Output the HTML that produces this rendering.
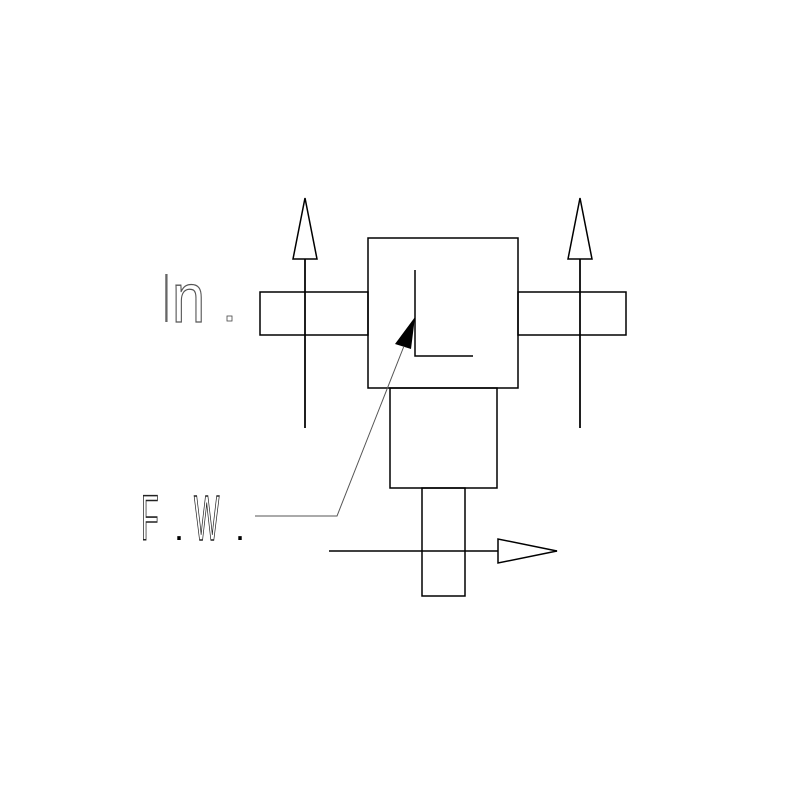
<!DOCTYPE html>
<html><head><style>body{margin:0;background:#fff}</style></head><body>
<svg width="800" height="800" xmlns="http://www.w3.org/2000/svg">
<rect width="800" height="800" fill="#fff"/>
<g fill="none" stroke="#000" stroke-width="1.5">
<rect x="368" y="238" width="150" height="150"/>
<rect x="260" y="292" width="108" height="43"/>
<rect x="518" y="292" width="108" height="43"/>
<rect x="390" y="388" width="107" height="100"/>
<rect x="422" y="488" width="43" height="108"/>
<line x1="305" y1="428" x2="305" y2="200"/>
<polygon points="305,198 293,259 317,259" fill="#fff"/>
<line x1="305" y1="259" x2="305" y2="428"/>
<line x1="580" y1="428" x2="580" y2="200"/>
<polygon points="580,198 568,259 592,259" fill="#fff"/>
<line x1="580" y1="259" x2="580" y2="428"/>
<polyline points="415,270 415,356 473,356"/>
<line x1="329" y1="551" x2="557" y2="551"/>
<polygon points="557,551 498,539 498,563" fill="#fff"/>
</g>
<polygon points="415,317 395,344 411,349" fill="#000"/>
<polyline points="404,346 337,516 255,516" fill="none" stroke="#555" stroke-width="1"/>
<g font-family="Liberation Sans, sans-serif">
<text transform="translate(163,322) scale(0.35,1)" font-size="70" fill="#666">I</text>
<text transform="translate(172,322) scale(0.85,1)" font-size="70" fill="#fff" stroke="#555" stroke-width="1.3">n</text>
<text transform="translate(141,540) scale(0.45,1)" font-size="64" fill="#fff" stroke="#222" stroke-width="1.6">F</text>
<text transform="translate(174,540)" font-size="36" fill="#000">.</text>
<text transform="translate(194,540) scale(0.42,1)" font-size="64" fill="#fff" stroke="#222" stroke-width="1.6">W</text>
<text transform="translate(235,540)" font-size="36" fill="#000">.</text>
</g>
<rect x="227" y="316" width="5" height="5" fill="none" stroke="#444" stroke-width="0.8"/>
</svg>
</body></html>
